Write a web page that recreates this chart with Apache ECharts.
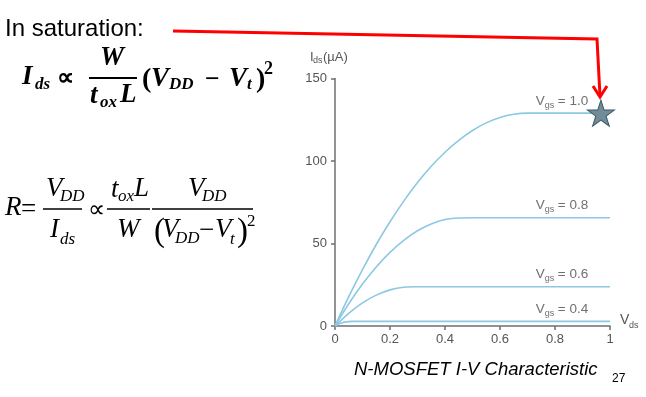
<!DOCTYPE html>
<html><head><meta charset="utf-8">
<script src="https://cdn.jsdelivr.net/npm/echarts@6/dist/echarts.min.js"></script>
<style>html,body{margin:0;padding:0;background:#fff}#c{width:646px;height:397px}</style>
</head><body><div id="c"></div>
<script>
// ---- data ----
const xTicks = [0, 0.2, 0.4, 0.6, 0.8, 1];
const yTicks = [0, 50, 100, 150];
const vgs10X = [0,0.05,0.1,0.15,0.2,0.25,0.3,0.35,0.4,0.45,0.5,0.55,0.6,0.65,0.7,0.8,0.9,1.0];
const vgs10Y = [0,17.8,34.2,49.4,63.2,75.7,86.9,96.8,105.3,112.5,118.5,123.1,126.4,128.3,129,129,129,129];
const vgs08X = [0,0.05,0.1,0.15,0.2,0.25,0.3,0.35,0.4,0.45,0.5,0.6,0.8,1.0];
const vgs08Y = [0,13.5,25.4,35.8,44.6,51.9,57.7,61.8,64.5,65.5,65.6,65.6,65.6,65.6];
const vgs06X = [0,0.05,0.1,0.15,0.2,0.25,0.3,0.4,0.6,0.8,1.0];
const vgs06Y = [0,7.7,14.0,18.7,21.9,23.5,23.8,23.8,23.8,23.8,23.8];
const vgs04X = [0,0.02,0.04,0.06,0.1,0.4,0.7,1.0];
const vgs04Y = [0,1.6,2.5,2.8,2.8,2.8,2.8,2.8];
const curveNames = ['1.0', '0.8', '0.6', '0.4'];
const curveSat = [129, 65.6, 23.8, 2.8];
const starPoint = [0.967, 129];

const pair = (xs, ys) => xs.map((x, i) => [x, ys[i]]);
const lineColor = '#8cc8e4';
const mkLine = (name, d) => ({
  name, type: 'line', data: d, smooth: 0.35, symbol: 'none',
  lineStyle: { color: lineColor, width: 1.6 }, z: 2
});

const chart = echarts.init(document.getElementById('c'), null, { renderer: 'canvas' });
const sans = '"Liberation Sans", Arial, sans-serif';
const serif = '"Liberation Serif", "Times New Roman", serif';

function T(text, x, y, font, opts) {
  opts = opts || {};
  return { type: 'text', x: x, y: y, z: 10, silent: true,
    style: { text: text, font: font, fill: opts.fill || '#000',
      align: opts.align || 'left', verticalAlign: 'middle',
      textAlign: opts.align || 'left', textVerticalAlign: 'middle' } };
}
function L(x1, y1, x2, y2, w, c) {
  return { type: 'line', z: 10, silent: true, shape: { x1, y1, x2, y2 }, style: { stroke: c || '#000', lineWidth: w } };
}

const f1 = 'italic bold 27px ' + serif, f1s = 'italic bold 17px ' + serif;
const f2 = 'italic 27px ' + serif, f2s = 'italic 17px ' + serif, f2r = '27px ' + serif;
const lblGray = '#707070';

const staticGraphics = [
  T('In saturation:', 5, 29, '24px ' + sans),
  // formula 1
  T('I', 22, 77, f1), T('ds', 35, 85, f1s),
  T('\u221D', 57, 79, 'bold 24px ' + serif),
  T('W', 112, 58, f1, { align: 'center' }),
  L(89, 78, 137, 78, 2),
  T('t', 90, 96, f1), T('ox', 100, 103, f1s), T('L', 120, 95, f1),
  T('(', 142, 80, 'bold 28px ' + serif), T('V', 151, 79, f1), T('DD', 169, 85, f1s),
  T('\u2212', 205, 80, 'bold 26px ' + serif), T('V', 229, 79, f1), T('t', 247, 85, f1s),
  T(')', 256, 80, 'bold 28px ' + serif), T('2', 264, 69, 'bold 18px ' + serif),
  // formula 2
  T('R', 5, 208, f2), T('=', 21, 210, f2r),
  L(43, 209, 82, 209, 1.3),
  T('V', 46, 189, f2), T('DD', 60, 197, f2s),
  T('I', 50, 230, f2), T('ds', 60, 240, f2s),
  T('\u221D', 88, 211, '24px ' + serif),
  L(107, 209, 150, 209, 1.3),
  T('t', 111, 190, f2), T('ox', 118, 197, f2s), T('L', 134, 189, f2),
  T('W', 117, 230, f2),
  L(152, 209, 253, 209, 1.3),
  T('V', 188, 189, f2), T('DD', 202, 197, f2s),
  T('(', 154, 232, '33px ' + serif), T('V', 162, 230, f2), T('DD', 175, 239, f2s),
  T('\u2212', 199, 231, f2r), T('V', 215, 230, f2), T('t', 230, 240, f2s),
  T(')', 237, 232, '33px ' + serif), T('2', 247, 222, '17px ' + serif),
  // axis names
  T('I', 310, 57, '13px ' + sans, { fill: '#555' }), T('ds', 313, 61, '9px ' + sans, { fill: '#555' }),
  T('(\u00B5A)', 323, 57, '13px ' + sans, { fill: '#555' }),
  T('V', 620, 320, '14px ' + sans, { fill: '#555' }), T('ds', 629, 326, '9px ' + sans, { fill: '#555' }),
  // caption
  T('N-MOSFET I-V Characteristic', 354, 370, 'italic 18.5px ' + sans),
  T('27', 612, 379, '12px ' + sans),
  // red arrow
  { type: 'polyline', z: 20, silent: true, shape: { points: [[173, 31], [597, 39], [600, 96]] },
    style: { stroke: '#ff0000', lineWidth: 3, fill: null } },
  { type: 'polyline', z: 20, silent: true, shape: { points: [[593, 86], [600, 97], [607, 86]] },
    style: { stroke: '#ff0000', lineWidth: 3, fill: null } }
];

chart.setOption({
  animation: false,
  backgroundColor: '#fff',
  grid: { left: 335, right: 36, top: 78.5, bottom: 71, containLabel: false },
  xAxis: {
    type: 'value', min: 0, max: 1, interval: 0.2,
    axisLine: { show: true, lineStyle: { color: '#6f6f6f', width: 1.5 } },
    axisTick: { show: true, length: 4, lineStyle: { color: '#6f6f6f', width: 1.5 } },
    axisLabel: { color: '#555', fontSize: 13, fontFamily: sans, margin: 7,
      formatter: v => { const t = xTicks.find(k => Math.abs(k - v) < 1e-9); return t === undefined ? '' : String(t); } },
    splitLine: { show: false }
  },
  yAxis: {
    type: 'value', min: 0, max: 150, interval: 50,
    axisLine: { show: true, lineStyle: { color: '#6f6f6f', width: 1.5 } },
    axisTick: { show: true, length: 4, lineStyle: { color: '#6f6f6f', width: 1.5 } },
    axisLabel: { color: '#555', fontSize: 13, fontFamily: sans, margin: 8,
      formatter: v => yTicks.includes(v) ? String(v) : '' },
    splitLine: { show: false }
  },
  series: [
    mkLine('Vgs=1.0', pair(vgs10X, vgs10Y)),
    mkLine('Vgs=0.8', pair(vgs08X, vgs08Y)),
    mkLine('Vgs=0.6', pair(vgs06X, vgs06Y)),
    mkLine('Vgs=0.4', pair(vgs04X, vgs04Y)),
    { type: 'scatter', data: [starPoint], z: 5,
      symbol: 'path://M50,0 L61.2,34.5 L97.6,34.5 L68.2,55.9 L79.4,90.5 L50,69.1 L20.6,90.5 L31.8,55.9 L2.4,34.5 L38.8,34.5 Z',
      symbolSize: [27, 26],
      itemStyle: { color: '#6f8c98', borderColor: '#3e5764', borderWidth: 1, opacity: 1 } }
  ],
  graphic: staticGraphics
});

// curve labels positioned from data coordinates
const labelGraphics = [];
curveNames.forEach((n, i) => {
  const p = chart.convertToPixel({ gridIndex: 0 }, [0.73, curveSat[i]]);
  const x = p[0], y = p[1] - 12;
  labelGraphics.push(T('V', x, y, '13.5px ' + sans, { fill: lblGray }));
  labelGraphics.push(T('gs', x + 9, y + 4, '9px ' + sans, { fill: lblGray }));
  labelGraphics.push(T('= ' + n, x + 22, y, '13.5px ' + sans, { fill: lblGray }));
});
chart.setOption({ graphic: staticGraphics.concat(labelGraphics) });
</script></body></html>
